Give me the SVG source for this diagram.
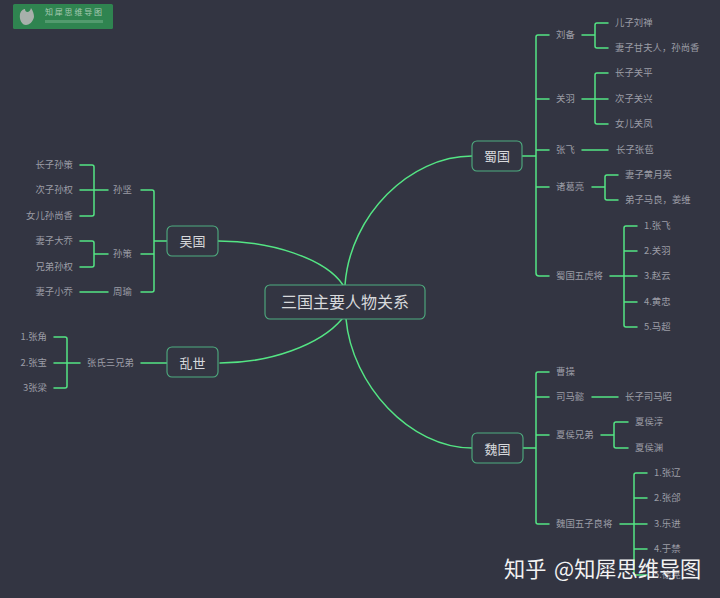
<svg xmlns="http://www.w3.org/2000/svg" width="720" height="598" viewBox="0 0 720 598">
<style>
text{font-family:"Noto Sans CJK SC","Noto Sans",sans-serif;dominant-baseline:central;transform:translateY(-1px)}
.l{font-size:9.4px;fill:#9c9da6}
.r{font-size:9.4px;fill:#9c9da6;text-anchor:end}
.m{font-size:13px;fill:#d8d9dc;text-anchor:middle}
.box{fill:#333542;stroke:#4fae80;stroke-width:1.1}
#connectors path{fill:none;stroke:#54e584;stroke-width:1.5;stroke-linecap:round}
</style>
<rect width="720" height="598" fill="#333542"/>
<g id="connectors">
<path d="M345 285C350 215 410 156 472 156"/>
<path d="M343 285C325 258 270 241 218 241"/>
<path d="M342 319C320 345 270 363 220 363"/>
<path d="M346 319C352 385 410 448 472 448"/>
<path d="M549 35H538Q536 35 536 37V273Q536 276 539 276H549M522 156H536M536 99H549M536 150H549M536 187H549"/>
<path d="M582 35H595M608 23H597Q595 23 595 25V46Q595 48 597 48H608"/>
<path d="M582 99H608M608 73H597Q595 73 595 75V122Q595 124 597 124H608"/>
<path d="M582 150H608"/>
<path d="M592 187H605M618 175H607Q605 175 605 177V198Q605 200 607 200H618"/>
<path d="M610 276H637M637 226H626Q624 226 624 228V325Q624 327 626 327H637M624 251H637M624 302H637"/>
<path d="M549 372H538Q536 372 536 374V522Q536 524 538 524H549M523 448H536M536 397H549M536 435H549"/>
<path d="M592 397H618"/>
<path d="M601 435H614M628 422H616Q614 422 614 424V446Q614 448 616 448H628"/>
<path d="M620 524H647M647 473H636Q634 473 634 475V573Q634 575 636 575H647M634 498H647M634 549H647"/>
<path d="M141 190H152Q154 190 154 192V290Q154 292 152 292H141M154 241H167M141 254H154"/>
<path d="M108 190H80M80 165H92Q94 165 94 167V214Q94 216 92 216H80"/>
<path d="M108 254H94M80 241H92Q94 241 94 243V265Q94 267 92 267H80"/>
<path d="M80 292H108"/>
<path d="M141 363H167"/>
<path d="M80 363H54M54 337H65Q67 337 67 339V386Q67 388 65 388H54"/>
</g>
<g id="logo">
<rect x="13" y="4" width="100" height="25" rx="1.5" fill="#2f8450"/>
<path d="M20 14C21 10 24 9 25 9C25 13 30 13 31 8C33 11 34 14 34 17C33 22 29 25 26 25C22 25 19 20 20 14Z" fill="#a8b0ab"/>
<text x="45" y="12" font-size="8" letter-spacing="1.8" fill="#a5c9b0">知犀思维导图</text>
<rect x="45" y="20" width="58" height="3" fill="#7fb792" opacity=".45"/>
</g>
<g id="root"><rect class="box" x="265" y="285" width="160" height="34" rx="5"/><text x="345" y="302" font-size="16" fill="#d8d9dc" text-anchor="middle">三国主要人物关系</text></g>
<g id="shu"><rect class="box" x="472" y="141" width="50" height="30" rx="5"/><text class="m" x="497" y="156">蜀国</text></g>
<g id="wu"><rect class="box" x="167" y="226" width="51" height="30" rx="5"/><text class="m" x="192.500" y="241">吴国</text></g>
<g id="luanshi"><rect class="box" x="167" y="347" width="51" height="30" rx="5"/><text class="m" x="192.500" y="363">乱世</text></g>
<g id="wei"><rect class="box" x="472" y="433" width="51" height="30" rx="5"/><text class="m" x="497.500" y="449">魏国</text></g>
<g id="shu-labels">
<g id="n1"><text class="l" x="556" y="35">刘备</text></g>
<g id="n2"><text class="l" x="615" y="23">儿子刘禅</text></g>
<g id="n3"><text class="l" x="615" y="48">妻子甘夫人，孙尚香</text></g>
<g id="n4"><text class="l" x="556" y="99">关羽</text></g>
<g id="n5"><text class="l" x="615" y="73">长子关平</text></g>
<g id="n6"><text class="l" x="615" y="99">次子关兴</text></g>
<g id="n7"><text class="l" x="615" y="124">女儿关凤</text></g>
<g id="n8"><text class="l" x="556" y="150">张飞</text></g>
<g id="n9"><text class="l" x="616" y="150">长子张苞</text></g>
<g id="n10"><text class="l" x="556" y="187">诸葛亮</text></g>
<g id="n11"><text class="l" x="625" y="175">妻子黄月英</text></g>
<g id="n12"><text class="l" x="625" y="200">弟子马良，姜维</text></g>
<g id="n13"><text class="l" x="556" y="276">蜀国五虎将</text></g>
<g id="n14"><text class="l" x="644" y="226">1.张飞</text></g>
<g id="n15"><text class="l" x="644" y="251">2.关羽</text></g>
<g id="n16"><text class="l" x="644" y="276">3.赵云</text></g>
<g id="n17"><text class="l" x="644" y="302">4.黄忠</text></g>
<g id="n18"><text class="l" x="644" y="327">5.马超</text></g>
</g>
<g id="wei-labels">
<g id="n19"><text class="l" x="556" y="372">曹操</text></g>
<g id="n20"><text class="l" x="556" y="397">司马懿</text></g>
<g id="n21"><text class="l" x="625" y="397">长子司马昭</text></g>
<g id="n22"><text class="l" x="556" y="435">夏侯兄弟</text></g>
<g id="n23"><text class="l" x="635" y="422">夏侯淳</text></g>
<g id="n24"><text class="l" x="635" y="448">夏侯渊</text></g>
<g id="n25"><text class="l" x="556" y="524">魏国五子良将</text></g>
<g id="n26"><text class="l" x="654" y="473">1.张辽</text></g>
<g id="n27"><text class="l" x="654" y="498">2.张郃</text></g>
<g id="n28"><text class="l" x="654" y="524">3.乐进</text></g>
<g id="n29"><text class="l" x="654" y="549">4.于禁</text></g>
<g id="n30"><text class="l" x="654" y="575">5.徐晃</text></g>
</g>
<g id="wu-labels">
<g id="n31"><text class="l" x="113" y="190">孙坚</text></g>
<g id="n32"><text class="r" x="73" y="165">长子孙策</text></g>
<g id="n33"><text class="r" x="73" y="190">次子孙权</text></g>
<g id="n34"><text class="r" x="73" y="216">女儿孙尚香</text></g>
<g id="n35"><text class="l" x="113" y="254">孙策</text></g>
<g id="n36"><text class="r" x="73" y="241">妻子大乔</text></g>
<g id="n37"><text class="r" x="73" y="267">兄弟孙权</text></g>
<g id="n38"><text class="l" x="113" y="292">周瑜</text></g>
<g id="n39"><text class="r" x="73" y="292">妻子小乔</text></g>
</g>
<g id="luanshi-labels">
<g id="n40"><text class="l" x="87" y="363">张氏三兄弟</text></g>
<g id="n41"><text class="r" x="47" y="337">1.张角</text></g>
<g id="n42"><text class="r" x="47" y="363">2.张宝</text></g>
<g id="n43"><text class="r" x="47" y="388">3张梁</text></g>
</g>
<text id="watermark" x="504" y="568" font-size="21.200" word-spacing="3" fill="#f2f2f2">知乎 @知犀思维导图</text>
</svg>
